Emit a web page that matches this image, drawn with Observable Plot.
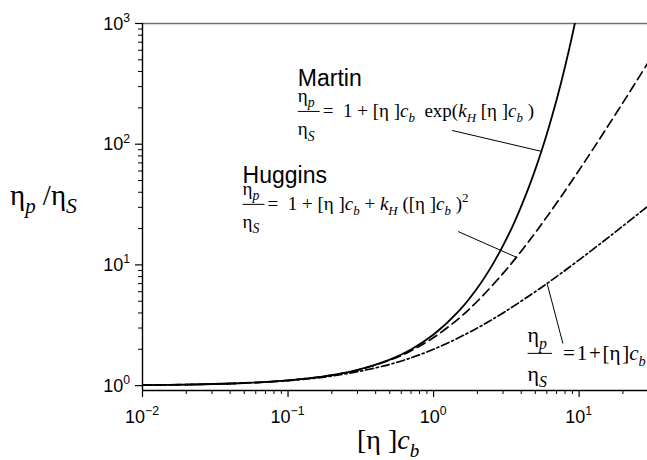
<!DOCTYPE html>
<html><head><meta charset="utf-8">
<script src="https://cdn.jsdelivr.net/npm/d3@7"></script>
<script src="https://cdn.jsdelivr.net/npm/@observablehq/plot@0.6"></script>
<style>body{margin:0;background:#fff} svg{display:block} text{white-space:pre}</style>
</head><body><div id="chart"></div>
<script>
// Martin: eta_p/eta_s = 1 + [eta]c_b exp(k_H [eta]c_b)
const martinX = [0.01,0.02,0.05,0.1,0.2,0.3,0.5,0.7,1,1.5,2,2.5,3,3.5,4,4.5,5,5.5,6,6.5,7,7.5,8,8.5,9,9.5];
const martinY = [1.010,1.020,1.051,1.105,1.221,1.349,1.642,1.993,2.649,4.18,6.44,9.73,14.45,21.1,30.6,43.7,61.9,87.0,121.5,168.7,232.8,319.9,437.8,596.9,811,1099];
// Huggins: eta_p/eta_s = 1 + [eta]c_b + k_H ([eta]c_b)^2
const hugginsX = [0.01,0.02,0.05,0.1,0.2,0.3,0.5,0.7,1,1.5,2,3,4,5,6,8,10,12,15,20,25,29.5];
const hugginsY = [1.010,1.020,1.051,1.105,1.22,1.345,1.625,1.945,2.5,3.625,5,8.5,13,18.5,25,41,61,85,128.5,221,338.5,465.6];
// linear: eta_p/eta_s = 1 + [eta]c_b
const linearX = [0.01,0.02,0.05,0.1,0.2,0.5,1,2,3,5,7,10,15,20,29.5];
const linearY = [1.01,1.02,1.05,1.1,1.2,1.5,2,3,4,6,8,11,16,21,30.5];

const xMajor = [0.01,0.1,1,10];
const xTickExp = ["\u22122","\u22121","0","1"];
const xMinor = [0.02,0.03,0.04,0.05,0.06,0.07,0.08,0.09,0.2,0.3,0.4,0.5,0.6,0.7,0.8,0.9,2,3,4,5,6,7,8,9,20];
const yMajor = [1,10,100,1000];
const yTickExp = ["0","1","2","3"];
const yMinor = [2,3,4,5,6,7,8,9,20,30,40,50,60,70,80,90,200,300,400,500,600,700,800,900];

const xDomain = [0.01, 29.5];
const yDomain = [0.911, 1000];

const leaders = [
  {x1: 1.34, y1: 130, x2: 5.45, y2: 87.5},
  {x1: 1.475, y1: 18.9, x2: 3.75, y2: 11.5},
  {x1: 6.03, y1: 7.0, x2: 7.74, y2: 2.23}
];

const serif = "'Liberation Serif','Times New Roman',serif";
const sans = "'Liberation Sans',Arial,Helvetica,sans-serif";

const plot = Plot.plot({
  width: 647, height: 460,
  marginLeft: 142, marginRight: 0, marginTop: 23, marginBottom: 70,
  x: {type: "log", domain: xDomain},
  y: {type: "log", domain: yDomain},
  style: {background: "white", color: "black", fontFamily: sans, fontSize: "18px"},
  marks: [
    Plot.ruleY([yDomain[1]], {stroke: "#707070", strokeWidth: 1.5}),
    Plot.ruleX([xDomain[0]], {stroke: "black", strokeWidth: 1.4}),
    Plot.ruleY([yDomain[0]], {stroke: "black", strokeWidth: 1.4}),
    Plot.axisX({ticks: xMajor, tickSize: 7, tickFormat: () => "", label: null, strokeWidth: 1.2}),
    Plot.axisX({ticks: xMinor, tickSize: 4, tickFormat: () => "", label: null, strokeWidth: 1}),
    Plot.axisY({ticks: yMajor, tickSize: 7, tickFormat: () => "", label: null, strokeWidth: 1.2}),
    Plot.axisY({ticks: yMinor, tickSize: 4, tickFormat: () => "", label: null, strokeWidth: 1}),
    Plot.line(linearX, {x: linearX, y: linearY, stroke: "black", strokeWidth: 1.7, strokeDasharray: "8,3,2,3", curve: "catmull-rom", clip: true}),
    Plot.line(hugginsX, {x: hugginsX, y: hugginsY, stroke: "black", strokeWidth: 1.7, strokeDasharray: "9,5", curve: "catmull-rom", clip: true}),
    Plot.line(martinX, {x: martinX, y: martinY, stroke: "black", strokeWidth: 1.8, curve: "catmull-rom", clip: true}),
    Plot.link(leaders, {x1: "x1", y1: "y1", x2: "x2", y2: "y2", stroke: "black", strokeWidth: 1})
  ]
});
document.getElementById("chart").appendChild(plot);

const sx = plot.scale("x"), sy = plot.scale("y");
const X = v => sx.apply(v), Y = v => sy.apply(v);
const g = d3.select(plot).append("g").attr("text-anchor", "start");

function rich(x, y, fs, parts, family, anchor) {
  const t = g.append("text").attr("x", x).attr("y", y)
    .attr("font-size", fs).attr("font-family", family)
    .attr("text-anchor", anchor || "start").attr("fill", "black");
  let shift = 0;
  for (const p of parts) {
    const s = t.append("tspan").text(p.t);
    const target = p.sub ? fs * 0.28 : p.sup ? -fs * (p.supk || 0.42) : 0;
    if (target !== shift) { s.attr("dy", target - shift); shift = target; }
    if (p.sub || p.sup) s.attr("font-size", fs * (p.size || 0.68));
    if (p.it) s.attr("font-style", "italic");
  }
  return t;
}

// tick labels
yMajor.forEach((v, i) => {
  rich(X(xDomain[0]) - 12, Y(v) + 6.5, 18, [{t: "10"}, {t: yTickExp[i], sup: 1, size: 0.68, supk: 0.42}], sans, "end");
});
xMajor.forEach((v, i) => {
  rich(X(v), Y(yDomain[0]) + 33, 18, [{t: "10"}, {t: xTickExp[i], sup: 1, size: 0.68, supk: 0.42}], sans, "middle");
});

// axis titles
rich(10, 205, 29, [{t: "\u03B7"}, {t: "p", sub: 1, it: 1, size: 0.72}, {t: " /\u03B7"}, {t: "S", sub: 1, it: 1, size: 0.75}], serif);
rich(357, 449, 28, [{t: "[\u03B7 ]"}, {t: "c", it: 1}, {t: "b", sub: 1, it: 1}], serif);

// formulas
function formula(xv, yv, fs, rest, gap, rfs) {
  const x0 = X(xv), y0 = Y(yv);
  const num = rich(x0, y0 - 0.8 * fs, fs, [{t: "\u03B7"}, {t: "p", sub: 1, it: 1, size: 0.72}], serif);
  const den = rich(x0, y0 + 0.95 * fs, fs, [{t: "\u03B7"}, {t: "S", sub: 1, it: 1, size: 0.72}], serif);
  const w = Math.max(num.node().getBBox().width, den.node().getBBox().width) + 5;
  g.append("line").attr("x1", x0).attr("x2", x0 + w)
    .attr("y1", y0 - 0.3 * fs).attr("y2", y0 - 0.3 * fs)
    .attr("stroke", "black").attr("stroke-width", 1);
  rich(x0 + w + gap, y0, rfs || fs, rest, serif);
}
const E = "\u03B7";
g.append("text").attr("x", X(0.1177)).attr("y", Y(300)).attr("font-family", sans).attr("font-size", 23).attr("text-anchor", "start").text("Martin");
g.append("text").attr("x", X(0.0491)).attr("y", Y(47)).attr("font-family", sans).attr("font-size", 23).attr("text-anchor", "start").text("Huggins");
formula(0.1177, 166, 19, [{t: "=  1 + [" + E + " ]"}, {t: "c", it: 1}, {t: "b", sub: 1, it: 1}, {t: "  exp("}, {t: "k", it: 1}, {t: "H", sub: 1, it: 1}, {t: " [" + E + " ]"}, {t: "c", it: 1}, {t: "b", sub: 1, it: 1}, {t: " )"}], 3);
formula(0.0491, 28.2, 19, [{t: "=  1 + [" + E + " ]"}, {t: "c", it: 1}, {t: "b", sub: 1, it: 1}, {t: " + "}, {t: "k", it: 1}, {t: "H", sub: 1, it: 1}, {t: " ([" + E + " ]"}, {t: "c", it: 1}, {t: "b", sub: 1, it: 1}, {t: " )"}, {t: "2", sup: 1}], 3);
formula(4.46, 1.615, 22, [{t: "=\u200A1\u200A+\u200A[" + E + "\u200A]"}, {t: "c", it: 1}, {t: "b", sub: 1, it: 1}], 11, 21);
</script>
</body></html>
